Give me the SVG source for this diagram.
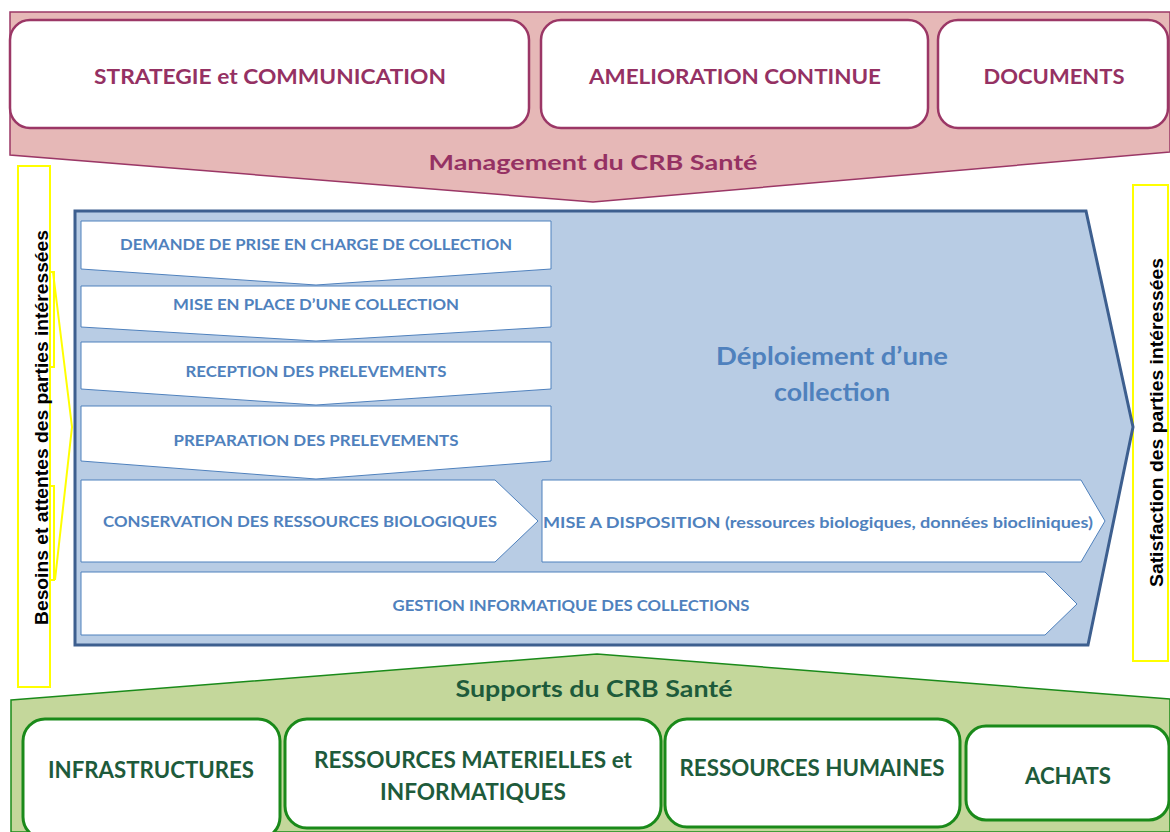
<svg xmlns="http://www.w3.org/2000/svg" width="1170" height="832" viewBox="0 0 1170 832">
<style>
.pk{font-family:Lato,"Open Sans",sans-serif;font-weight:bold;fill:#953163;font-size:21px;text-anchor:middle}
.gr{font-family:Lato,"Open Sans",sans-serif;font-weight:bold;fill:#1e5b3b;font-size:22.5px;text-anchor:middle}
.bl{font-family:Lato,"Open Sans",sans-serif;font-weight:bold;fill:#4f81bd;font-size:16px;text-anchor:middle}
.big{font-family:Lato,"Open Sans",sans-serif;font-weight:bold;fill:#4f81bd;font-size:24.5px;text-anchor:middle}
.vt{font-family:"Liberation Sans",Arial,sans-serif;font-weight:bold;fill:#000;font-size:17.5px;text-anchor:middle}
.pbox{fill:#fff;stroke:#9b3766;stroke-width:2.5}
.gbox{fill:#fff;stroke:#1a8a1a;stroke-width:3}
.step{fill:#fff;stroke:#4f81bd;stroke-width:1}
.yel{fill:none;stroke:#ffff00;stroke-width:2}
</style>
<rect width="1170" height="832" fill="#fff"/>
<g id="management">
<polygon points="10,12 1170,12 1170,152 593,202 10,155" fill="#e6b8b7" stroke="#9b3766" stroke-width="1.5"/>
<text class="pk" x="593" y="170" font-size="22.5" textLength="329" lengthAdjust="spacingAndGlyphs">Management du CRB Santé</text>
</g>
<g id="strategie">
<rect class="pbox" x="10" y="20" width="519" height="108" rx="20"/>
<text class="pk" x="270" y="83.5" textLength="352" lengthAdjust="spacingAndGlyphs">STRATEGIE et COMMUNICATION</text>
</g>
<g id="amelioration">
<rect class="pbox" x="541" y="20" width="387" height="108" rx="20"/>
<text class="pk" x="735" y="83.5" textLength="292" lengthAdjust="spacingAndGlyphs">AMELIORATION CONTINUE</text>
</g>
<g id="documents">
<rect class="pbox" x="938" y="20" width="230" height="108" rx="20"/>
<text class="pk" x="1054" y="83.5" textLength="141" lengthAdjust="spacingAndGlyphs">DOCUMENTS</text>
</g>
<g id="besoins">
<rect class="yel" x="18" y="166" width="32" height="521"/>
<polyline class="yel" points="53,272 72,427 55,580"/>
<rect class="yel" x="50" y="272" width="4" height="95"/>
<rect class="yel" x="50" y="486" width="4" height="94"/>
<text class="vt" transform="translate(47.5,427.5) rotate(-90)" textLength="395" lengthAdjust="spacingAndGlyphs">Besoins et attentes des parties intéressées</text>
</g>
<g id="satisfaction">
<rect class="yel" x="1133" y="185" width="35" height="476"/>
<text class="vt" transform="translate(1162.5,422.5) rotate(-90)" textLength="329" lengthAdjust="spacingAndGlyphs">Satisfaction des parties intéressées</text>
</g>
<g id="deploiement">
<polygon points="75,211 1086,211 1133,427 1088,645 75,645" fill="#b8cce4" stroke="#3d5f8f" stroke-width="3"/>
<text class="big" x="832" y="365" textLength="232" lengthAdjust="spacingAndGlyphs">Déploiement d’une</text>
<text class="big" x="832" y="401" textLength="116" lengthAdjust="spacingAndGlyphs">collection</text>
</g>
<g id="demande">
<polygon class="step" points="81,221 551,221 551,269 316,285 81,269"/>
<text class="bl" x="316" y="249.5" textLength="392" lengthAdjust="spacingAndGlyphs">DEMANDE DE PRISE EN CHARGE DE COLLECTION</text>
</g>
<g id="mise-en-place">
<polygon class="step" points="81,286 551,286 551,327 316,341 81,327"/>
<text class="bl" x="316" y="310" textLength="286" lengthAdjust="spacingAndGlyphs">MISE EN PLACE D’UNE COLLECTION</text>
</g>
<g id="reception">
<polygon class="step" points="81,342 551,342 551,389 316,405 81,389"/>
<text class="bl" x="316" y="377" textLength="261" lengthAdjust="spacingAndGlyphs">RECEPTION DES PRELEVEMENTS</text>
</g>
<g id="preparation">
<polygon class="step" points="81,406 551,406 551,461 316,479 81,461"/>
<text class="bl" x="316" y="446" textLength="285" lengthAdjust="spacingAndGlyphs">PREPARATION DES PRELEVEMENTS</text>
</g>
<g id="conservation">
<polygon class="step" points="81,480 495,480 538,521 495,562 81,562"/>
<text class="bl" x="300" y="527" textLength="394" lengthAdjust="spacingAndGlyphs">CONSERVATION DES RESSOURCES BIOLOGIQUES</text>
</g>
<g id="mise-a-disposition">
<polygon class="step" points="542,480 1081,480 1105,521 1081,562 542,562"/>
<text class="bl" x="818" y="528" textLength="550" lengthAdjust="spacingAndGlyphs">MISE A DISPOSITION (ressources biologiques, données biocliniques)</text>
</g>
<g id="gestion">
<polygon class="step" points="81,572 1045,572 1077,604 1045,635 81,635"/>
<text class="bl" x="571" y="611" textLength="357" lengthAdjust="spacingAndGlyphs">GESTION INFORMATIQUE DES COLLECTIONS</text>
</g>
<g id="supports">
<polygon points="11,700 597,654 1170,699 1170,832 11,832" fill="#c4d79b" stroke="#1a8a1a" stroke-width="1.5"/>
<text class="gr" x="594" y="697" textLength="277" lengthAdjust="spacingAndGlyphs">Supports du CRB Santé</text>
</g>
<g id="infrastructures">
<rect class="gbox" x="23" y="719" width="257" height="120" rx="22"/>
<text class="gr" x="151" y="778" textLength="206" lengthAdjust="spacingAndGlyphs">INFRASTRUCTURES</text>
</g>
<g id="ressources-materielles">
<rect class="gbox" x="285" y="719" width="376" height="109" rx="22"/>
<text class="gr" x="473" y="768" textLength="318" lengthAdjust="spacingAndGlyphs">RESSOURCES MATERIELLES et</text>
<text class="gr" x="473" y="800" textLength="186" lengthAdjust="spacingAndGlyphs">INFORMATIQUES</text>
</g>
<g id="ressources-humaines">
<rect class="gbox" x="665" y="719" width="295" height="108" rx="22"/>
<text class="gr" x="812" y="776" textLength="265" lengthAdjust="spacingAndGlyphs">RESSOURCES HUMAINES</text>
</g>
<g id="achats">
<rect class="gbox" x="966" y="726" width="203" height="94" rx="20"/>
<text class="gr" x="1068" y="784" textLength="86" lengthAdjust="spacingAndGlyphs">ACHATS</text>
</g>
<g id="connectors"></g>
</svg>
